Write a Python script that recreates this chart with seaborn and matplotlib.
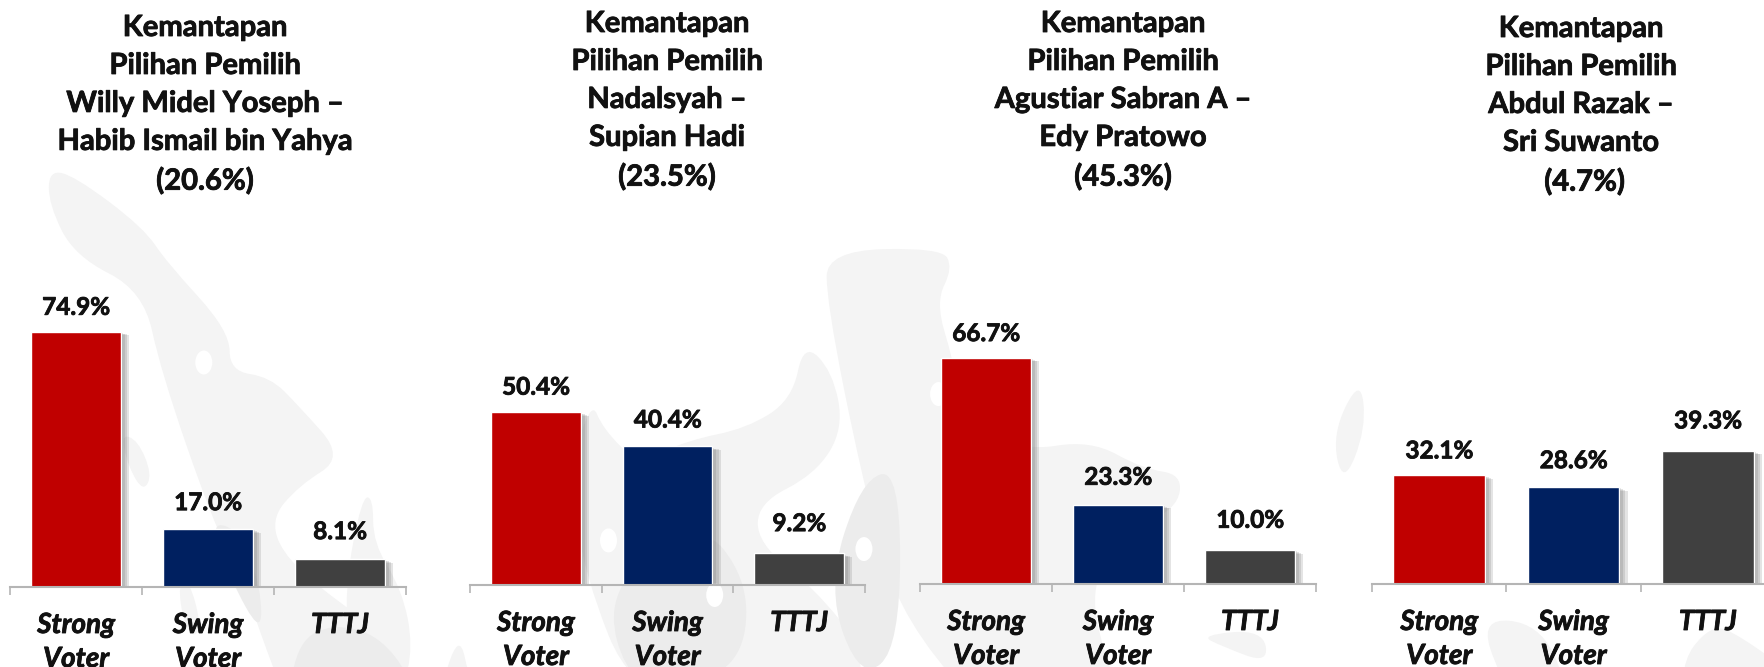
import pandas as pd
import seaborn as sns
import matplotlib.pyplot as plt
from matplotlib import patheffects as pe
from matplotlib.patches import PathPatch, Ellipse
from matplotlib.path import Path

categories = ['Strong\nVoter', 'Swing\nVoter', 'TTTJ']
titles = ['Kemantapan\nPilihan Pemilih\nWilly Midel Yoseph –\nHabib Ismail bin Yahya\n(20.6%)',
          'Kemantapan\nPilihan Pemilih\nNadalsyah –\nSupian Hadi\n(23.5%)',
          'Kemantapan\nPilihan Pemilih\nAgustiar Sabran A –\nEdy Pratowo\n(45.3%)',
          'Kemantapan\nPilihan Pemilih\nAbdul Razak –\nSri Suwanto\n (4.7%)']
willy = [74.9, 17.0, 8.1]
nadalsyah = [50.4, 40.4, 9.2]
agustiar = [66.7, 23.3, 10.0]
abdul = [32.1, 28.6, 39.3]
colors = ['#c00000', '#002060', '#404040']
series = [willy, nadalsyah, agustiar, abdul]

W, H = 1764, 667
# left, right, baseline, axes height, title centre, title top (pixels)
panels = [(10, 406, 587, 341, 205, 15),
          (470, 865, 585, 343, 667, 11),
          (920, 1316, 584, 339, 1123, 11),
          (1372, 1775, 584, 339, 1581, 16)]
# distance of each value label above its bar
label_offsets = [[17.5, 19, 20], [18, 19, 21.5], [17.5, 20, 21.5], [17.5, 19, 21.5]]

# faint map behind the charts, outlines traced from a 1.742x view of the picture
map_light = [
    [(85,70),(130,80),(250,170),(290,230),(400,350),(400,420),(470,430),(520,480),(600,570),(520,620),(470,680),
     (500,750),(600,830),(700,900),(730,1000),(700,1150),(640,1230),(540,1100),(480,950),(420,780),(370,680),
     (280,420),(250,280),(130,220),(85,130)],
    [(310,790),(330,785),(350,860),(340,885),(320,860)],
    [(600,800),(630,640),(650,640),(650,720),(700,800),(720,900),(700,980),(650,1000),(610,930)],
    [(760,1000),(800,870),(820,970),(860,1000),(840,1040),(800,1040),(790,1100),(800,1200),(770,1150)],
    [(210,530),(240,540),(265,600),(250,630),(225,590)],
    [(990,600),(1030,470),(1050,520),(1110,580),(1200,540),(1300,520),(1380,470),(1400,370),(1450,420),(1470,520),
     (1420,600),(1320,650),(1320,720),(1420,800),(1500,900),(1500,1000),(1440,1200),(1400,1240),(1310,1000),
     (1240,960),(1100,980),(1020,780)],
    [(1440,210),(1640,205),(1660,240),(1630,300),(1660,400),(1680,500),(1780,560),(1900,540),(1990,590),(2060,600),
     (2050,660),(1960,700),(1900,790),(1920,910),(2000,1100),(1900,1300),(1800,1100),(1568,860),(1500,600),(1440,300)],
    [(790,1340),(960,1380),(970,1568),(830,1500)],
    [(2090,880),(2200,870),(2210,930),(2130,900)],
    [(2320,530),(2370,430),(2380,520),(2340,620)],
    [(2330,1010),(2430,1000),(2400,1050),(2340,1060)],
    [(2580,850),(2680,860),(2730,960),(2730,1050),(2660,1000),(2610,950)],
    [(2920,940),(2980,860),(3030,880),(3140,960),(3140,1568),(3030,1400),(2950,1150)],
    [(2450,1010),(2680,1020),(2760,1120),(2640,1300),(2480,1180)],
]
map_dark = [
    [(365,680),(420,700),(455,800),(455,880),(400,780)],
    [(500,1000),(520,890),(580,860),(660,880),(720,960),(720,1050),(680,1180),(640,1230),(560,1120)],
    [(1050,800),(1220,680),(1300,780),(1300,900),(1240,960),(1100,980)],
    [(1440,800),(1500,610),(1568,590),(1568,900),(1500,960)],
]
map_holes = [(355, 405), (552, 690), (645, 1085), (1060, 715), (1245, 810), (1400, 690), (1505, 730), (1635, 460)]


def to_px(x, y):
    return x/1.742, 130+y/1.742


def blob(points):
    # closed smooth outline through the midpoints of the traced points
    pts = [to_px(x, y) for x, y in points]
    mids = [((a[0]+b[0])/2, (a[1]+b[1])/2) for a, b in zip(pts, pts[1:]+pts[:1])]
    verts = [mids[-1]]
    codes = [Path.MOVETO]
    for p, m in zip(pts, mids):
        verts += [p, m]
        codes += [Path.CURVE3, Path.CURVE3]
    return Path(verts, codes)


sns.set_theme(style='white')
plt.rcParams['font.family'] = ['Lato', 'DejaVu Sans']
fig = plt.figure(figsize=(W/100, H/100), dpi=100)

bg = fig.add_axes([0, 0, 1, 1], zorder=-1)
bg.set_xlim(0, W)
bg.set_ylim(H, 0)
bg.axis('off')
for shape in map_light:
    bg.add_patch(PathPatch(blob(shape), fc='#f4f4f4', ec='none'))
for shape in map_dark:
    bg.add_patch(PathPatch(blob(shape), fc='#ececec', ec='none'))
for x, y in map_holes:
    bg.add_patch(Ellipse(to_px(x, y), 17, 24, fc='white', ec='none'))

thick = [pe.withStroke(linewidth=0.6, foreground='#111111')]
shadow = [pe.SimplePatchShadow(offset=o, shadow_rgbFace='#606060', alpha=0.17)
          for o in [(6, -2.5), (4.5, -2), (3, -1.5), (1.5, -1)]]

for vals, title, offs, (l, r, base, h, cx, top) in zip(series, titles, label_offsets, panels):
    ax = fig.add_axes([l/W, (H-base)/H, (r-l)/W, h/H])
    ax.patch.set_alpha(0)
    df = pd.DataFrame({'cat': categories, 'val': vals})
    sns.barplot(data=df, x='cat', y='val', hue='cat', palette=colors,
                legend=False, width=0.68, saturation=1, ax=ax)
    ax.set_xlim(-0.5, 2.5)
    ax.set_ylim(0, 100)
    ax.set(xlabel='', ylabel='', yticks=[])
    sns.despine(ax=ax, left=True)
    ax.spines['bottom'].set_color('#b5b5b5')
    ax.spines['bottom'].set_linewidth(1.5)
    ax.set_xticks([-0.5, 0.5, 1.5, 2.5])
    ax.set_xticklabels([])
    ax.tick_params(axis='x', which='major', bottom=True, length=6, width=1.2, color='#b5b5b5')
    ax.set_xticks([0, 1, 2], minor=True)
    ax.set_xticklabels(categories, minor=True, fontsize=20, fontweight='bold', style='italic',
                       color='#111111', linespacing=1.38, va='top', path_effects=thick)
    ax.tick_params(axis='x', which='minor', bottom=False, length=0, pad=18)
    for bar in ax.patches:
        bar.set_path_effects(shadow + [pe.Normal()])
    for i, v in enumerate(vals):
        ax.annotate(f'{v:.1f}%', (i, v), xytext=(0, offs[i]), textcoords='offset points',
                    ha='center', va='center', fontsize=17.5, fontweight='bold', color='#111111',
                    path_effects=thick)
    fig.text(cx/W, 1-top/H, title, ha='center', va='top', fontsize=21, fontweight='bold',
             color='#111111', linespacing=1.57, path_effects=thick)

fig.savefig('out.png', dpi=100)
